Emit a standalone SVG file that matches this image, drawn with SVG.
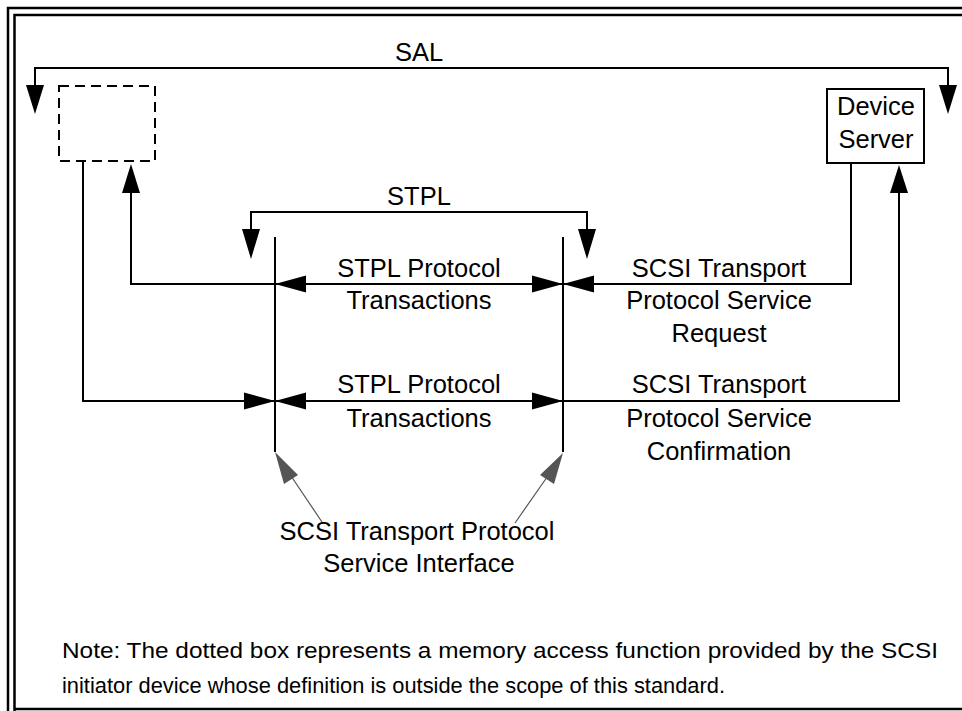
<svg xmlns="http://www.w3.org/2000/svg" width="962" height="711" viewBox="0 0 962 711">
<style>
.t{font-family:"Liberation Sans",Arial,sans-serif;font-size:25.5px;fill:#000;text-anchor:middle}
.n{font-family:"Liberation Sans",Arial,sans-serif;font-size:22px;fill:#000}
.ln{fill:none;stroke:#000;stroke-width:2}
.ah{fill:#000;stroke:none}
.g{fill:none;stroke:#555;stroke-width:1.2}
.gh{fill:#555;stroke:none}
</style>
<rect width="962" height="711" fill="#fff"/>
<g id="frame" fill="none" stroke="#000" stroke-width="2.5">
<path d="M8,715 V8 H970"/>
<path d="M14.5,715 V15 H970 M14.5,709 H970"/>
</g>
<g id="dashed-box"><rect x="59" y="86" width="96" height="75" fill="none" stroke="#000" stroke-width="2" stroke-dasharray="10,6"/></g>
<g id="device-server">
<rect x="827" y="89" width="97" height="74" fill="#fff" stroke="#000" stroke-width="2"/>
<text class="t" x="876" y="115">Device</text>
<text class="t" x="876" y="148">Server</text>
</g>
<g id="interface-lines">
<path class="ln" d="M275,237 V452 M563,237 V452"/>
</g>
<g id="connectors">
<path class="ln" d="M35,96 V68 H948 V96"/>
<path class="ah" d="M26,85 L44,85 L35,114 Z M939,85 L957,85 L948,114 Z"/>
<path class="ln" d="M251,240 V212 H587 V240"/>
<path class="ah" d="M242,229 L260,229 L251,259 Z M578,229 L596,229 L587,259 Z"/>
<path class="ln" d="M131,180 V284 H851 V163"/>
<path class="ah" d="M122,193 L140,193 L131,164 Z"/>
<path class="ln" d="M83,161 V401 H899 V180"/>
<path class="ah" d="M890,193 L908,193 L899,165 Z"/>
<path class="ah" d="M275,284 L306,275.5 L306,292.5 Z M563,284 L532,275.5 L532,292.5 Z M563,284 L594,275.5 L594,292.5 Z"/>
<path class="ah" d="M275,401 L244,392.5 L244,409.5 Z M275,401 L306,392.5 L306,409.5 Z M563,401 L532,392.5 L532,409.5 Z"/>
<path class="g" d="M322,522 L287,470 M515,523 L552,470"/>
<path class="gh" d="M275,452 L298,475 L284,484 Z M563,453 L554,484 L540,475 Z"/>
</g>
<g id="labels">
<text class="t" x="419" y="61">SAL</text>
<text class="t" x="419" y="205">STPL</text>
<text class="t" x="419" y="277">STPL Protocol</text>
<text class="t" x="419" y="309">Transactions</text>
<text class="t" x="419" y="393">STPL Protocol</text>
<text class="t" x="419" y="427">Transactions</text>
<text class="t" x="719" y="277">SCSI Transport</text>
<text class="t" x="719" y="309">Protocol Service</text>
<text class="t" x="719" y="342">Request</text>
<text class="t" x="719" y="393">SCSI Transport</text>
<text class="t" x="719" y="427">Protocol Service</text>
<text class="t" x="719" y="460">Confirmation</text>
<text class="t" x="417" y="540">SCSI Transport Protocol</text>
<text class="t" x="419" y="572">Service Interface</text>
<text class="n" x="62" y="658" textLength="876" lengthAdjust="spacingAndGlyphs">Note: The dotted box represents a memory access function provided by the SCSI</text>
<text class="n" x="62" y="693" textLength="663" lengthAdjust="spacingAndGlyphs">initiator device whose definition is outside the scope of this standard.</text>
</g>
</svg>
